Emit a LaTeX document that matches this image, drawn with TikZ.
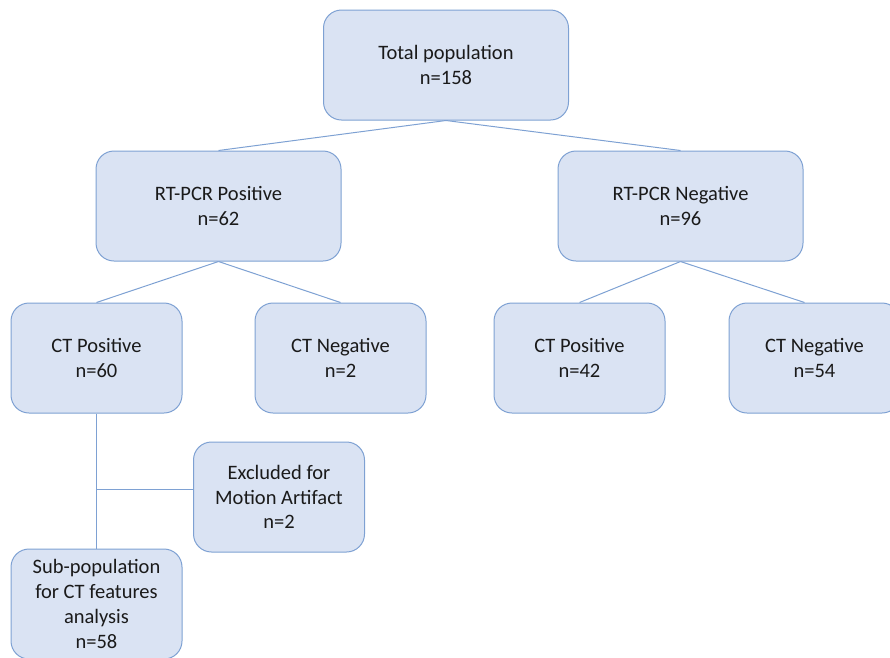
\documentclass[tikz,border=0pt]{standalone}
\usepackage{fontspec}
\setmainfont{Carlito}
\usetikzlibrary{positioning,calc}
\definecolor{boxfill}{HTML}{DAE3F3}
\definecolor{boxline}{HTML}{7EA1D3}
\definecolor{boxtext}{HTML}{1A1A1A}

\begin{document}
\begin{tikzpicture}[x=1pt, y=-1pt,
    every node/.style={font=\fontsize{20.5}{24.5}\selectfont, text=boxtext},
    bigbox/.style={draw=boxline, fill=boxfill, line width=1pt, rounded corners=18pt,
                   minimum width=245pt, minimum height=110pt, align=center},
    smallbox/.style={bigbox, minimum width=171pt},
    link/.style={draw=boxline, line width=1pt}]
        \useasboundingbox (0,0) rectangle (890,657);
        \clip (0,0) rectangle (890,657);
        % top level
        \node[bigbox] (total) at (446,65) {Total population\\n=158};
        \node[bigbox] (rtpos) at (218.5,206) {RT-PCR Positive\\n=62};
        \node[bigbox] (rtneg) at (680.5,206) {RT-PCR Negative\\n=96};
        % CT results
        \node[smallbox] (ctposa) at (96.5,358) {CT Positive\\n=60};
        \node[smallbox] (ctnega) at (340.5,358) {CT Negative\\n=2};
        \node[smallbox] (ctposb) at (579.5,358) {CT Positive\\n=42};
        \node[smallbox] (ctnegb) at (814.5,358) {CT Negative\\n=54};
        % sub-population
        \node[smallbox] (excl) at (279,497) {Excluded for\\Motion Artifact\\n=2};
        \node[smallbox, font=\fontsize{20.5}{25}\selectfont] (subpop) at (96.5,604) {Sub-population\\for CT features\\analysis\\n=58};
        \coordinate (split) at (96.5,489);
        % connectors
        \draw[link] (total.south) -- (rtpos.north);
        \draw[link] (total.south) -- (rtneg.north);
        \draw[link] (rtpos.south) -- (ctposa.north);
        \draw[link] (rtpos.south) -- (ctnega.north);
        \draw[link] (rtneg.south) -- (ctposb.north);
        \draw[link] (rtneg.south) -- ([xshift=-10pt]ctnegb.north);
        \draw[link] (ctposa.south) -- (subpop.north);
        \draw[link] (split) -- (split -| excl.west);
\end{tikzpicture}
\end{document}
